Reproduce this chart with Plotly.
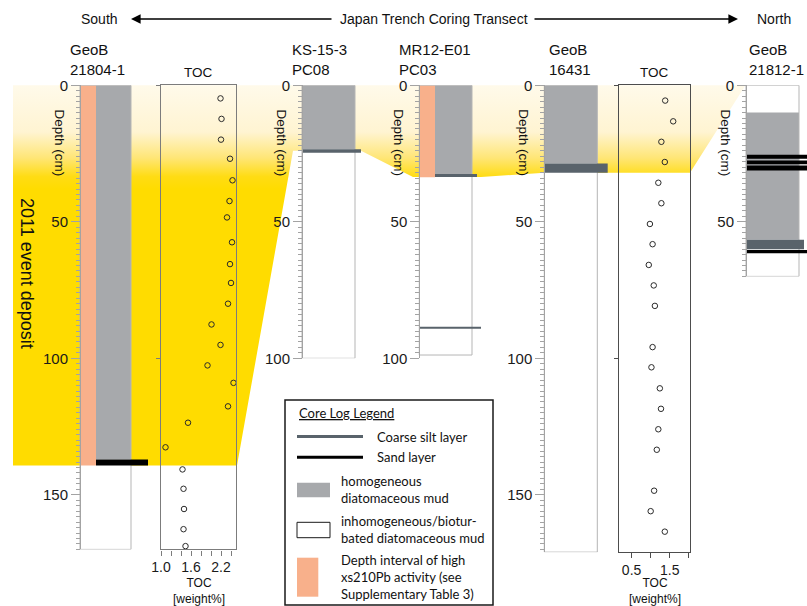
import plotly.graph_objects as go

# ---------------------------------------------------------------- data
core_titles = ["GeoB<br>21804-1", "KS-15-3<br>PC08", "MR12-E01<br>PC03", "GeoB<br>16431", "GeoB<br>21812-1"]
core_length_cm = [170.0, 100.0, 98.8, 171.0, 70.0]      # recovered core length
axis_length_cm = [170.0, 100.0, 100.0, 171.0, 70.0]     # depth ruler length
event_base_cm = [139.3, 24.0, 33.6, 32.0, 0.0]          # base of the 2011 event deposit

# lithology intervals (top, bottom) in cm
homog_mud = [[(0, 137.1)], [(0, 23.4)], [(0, 32.5)], [(0, 28.6)], [(10.0, 56.6)]]
pb210_high = [[(0, 139.3)], [], [(0, 33.7)], [], []]
silt_layers = [[], [(23.4, 24.7)], [(32.5, 33.6), (88.4, 89.2)], [(28.6, 32.0)], [(56.6, 60.1)]]
sand_layers = [[(137.1, 139.3)], [], [], [],
               [(25.4, 26.9), (27.5, 28.9), (29.4, 31.2), (60.3, 61.5)]]

# TOC profiles
toc21804_depth = [4.8, 12.3, 19.9, 26.9, 34.8, 42.4, 48.4, 57.5, 65.5, 72.4, 80.0, 87.6,
                  95.1, 102.6, 109.0, 117.6, 123.6, 132.6, 140.7, 147.8, 155.2, 162.6, 168.8]
toc21804_wt = [2.19, 2.21, 2.20, 2.38, 2.43, 2.37, 2.32, 2.42, 2.38, 2.40, 2.34, 2.01,
               2.19, 1.93, 2.45, 2.34, 1.54, 1.09, 1.43, 1.45, 1.46, 1.45, 1.49]
toc16431_depth = [5.6, 13.2, 20.7, 28.1, 35.7, 43.2, 50.8, 58.2, 65.8, 73.3, 80.8, 95.9,
                  103.3, 111.0, 118.5, 126.0, 133.5, 148.5, 156.0, 163.5]
toc16431_wt = [1.38, 1.59, 1.28, 1.37, 1.20, 1.28, 0.98, 1.05, 0.95, 1.08, 1.11, 1.05,
               1.02, 1.24, 1.27, 1.20, 1.16, 1.09, 1.00, 1.37]

# ---------------------------------------------------------------- geometry / style
W, H = 807, 606
TOP_PX = 85.3          # pixel row of the sea floor (0 cm)
PX_PER_CM = 2.73

def xp(px):
    return px / W

def yp(py):
    return 1 - py / H

def row_of(depth):
    return TOP_PX + PX_PER_CM * depth

ARIAL = "Liberation Sans, Arial, sans-serif"
LEGF = "Lato, sans-serif"

GREY = "#a7a9ac"
ORANGE = "#f8b08b"
SILT = "#59636b"
SAND = "#000000"
OUTLINE = "#b5b5b5"
RULER = "#a3a3a3"

col_axis_px = [80.0, 302.0, 419.3, 544.3, 746.0]
col_right_px = [131.0, 355.0, 472.0, 597.3, 799.0]
pb_right_px = [96.0, None, 435.0, None, None]
silt_x_px = [[], [(302, 361)], [(435, 477), (419.3, 481)], [(544.3, 607.7)], [(746, 804)]]
sand_x_px = [[(96, 148)], [], [], [], [(746, 812)] * 4]
title_left_px = [68, 290, 397, 546.7, 746.7]

# outline of the event-deposit body: (x pixel, core index whose base is used / None = sea floor)
deposit_outline = [(13, None), (745.5, None), (690, 3), (544.3, 3), (481, 2), (413, 2),
                   (361, 1), (293, 1), (237, 0), (13, 0)]


def rect_path(spans):
    xs, ys = [], []
    for x0, x1, t, b in spans:
        xs += [x0, x1, x1, x0, x0, None]
        ys += [t, t, b, b, t, None]
    return xs, ys


fig = go.Figure()

# ---- 2011 event deposit (background, vertical gradient)
dep_x = [p[0] for p in deposit_outline]
dep_y = [0.0 if p[1] is None else event_base_cm[p[1]] for p in deposit_outline]
fig.add_trace(go.Scatter(
    x=dep_x, y=dep_y, xaxis="x", yaxis="y", mode="lines", fill="toself",
    line=dict(width=0, color="rgba(0,0,0,0)"),
    fillgradient=dict(type="vertical", start=0, stop=38,
                      colorscale=[[0, "#fffaea"], [0.45, "#fff4d2"], [0.7, "#ffe676"],
                                  [0.88, "#ffdc14"], [1, "#ffdc00"]]),
    hoverinfo="skip", showlegend=False))

# ---- cores
for i in range(len(core_titles)):
    ya = f"y{i + 2}"
    x0 = col_axis_px[i]
    x1 = col_right_px[i]
    L = core_length_cm[i]

    def add_fill(spans, color, ya=ya):
        if not spans:
            return
        xs, ys = rect_path(spans)
        fig.add_trace(go.Scatter(x=xs, y=ys, xaxis="x", yaxis=ya, mode="lines", fill="toself",
                                 fillcolor=color, line=dict(width=0, color=color),
                                 hoverinfo="skip", showlegend=False))

    add_fill([(x0, x1, 0, L)], "#ffffff")
    pb_r = pb_right_px[i]
    if pb_r is not None:
        add_fill([(x0, pb_r, t, b) for t, b in pb210_high[i]], ORANGE)
    hx0 = pb_r if pb_r is not None else x0
    add_fill([(hx0, x1, t, b) for t, b in homog_mud[i]], GREY)

    bx, by = rect_path([(x0, x1, 0, L)])
    fig.add_trace(go.Scatter(x=bx, y=by, xaxis="x", yaxis=ya, mode="lines",
                             line=dict(width=1, color=OUTLINE), hoverinfo="skip", showlegend=False))

    add_fill([(sx[0], sx[1], t, b) for (t, b), sx in zip(silt_layers[i], silt_x_px[i])], SILT)
    add_fill([(sx[0], sx[1], t, b) for (t, b), sx in zip(sand_layers[i], sand_x_px[i])], SAND)

# ---- TOC profiles
marker = dict(symbol="circle-open", size=5.5, color="#2a2a2a", line=dict(width=1, color="#2a2a2a"))
fig.add_trace(go.Scatter(x=toc21804_wt, y=toc21804_depth, xaxis="x2", yaxis="y7", mode="markers",
                         marker=marker, showlegend=False, cliponaxis=False))
fig.add_trace(go.Scatter(x=toc16431_wt, y=toc16431_depth, xaxis="x3", yaxis="y8", mode="markers",
                         marker=marker, showlegend=False, cliponaxis=False))

# ---------------------------------------------------------------- axes
layout = dict(
    width=W, height=H, margin=dict(l=0, r=0, t=0, b=0, autoexpand=False),
    paper_bgcolor="white", plot_bgcolor="rgba(0,0,0,0)", showlegend=False,
    xaxis=dict(domain=[0, 1], range=[0, W], visible=False, fixedrange=True),
    yaxis=dict(domain=[0, 1], range=[(H - TOP_PX) / PX_PER_CM, -TOP_PX / PX_PER_CM],
               visible=False, fixedrange=True),
)

for i in range(len(core_titles)):
    L = axis_length_cm[i]
    majors = [v for v in range(0, int(L) + 1, 10)]
    minors = [v for v in range(0, int(L) + 1, 2)]
    layout[f"yaxis{i + 2}"] = dict(
        domain=[yp(row_of(L)), yp(TOP_PX)], range=[L, 0], anchor="free",
        position=xp(col_axis_px[i]), side="left",
        showline=True, linecolor=RULER, linewidth=1, showgrid=False, zeroline=False,
        ticks="outside", ticklen=9, tickwidth=1, tickcolor=RULER,
        tickmode="array", tickvals=majors,
        ticktext=[str(v) if v % 50 == 0 else "" for v in majors],
        tickfont=dict(family=ARIAL, size=15, color="#1a1a1a"),
        minor=dict(tickmode="array", tickvals=minors, ticks="outside", ticklen=4,
                   tickcolor=RULER, tickwidth=1, showgrid=False),
        fixedrange=True, automargin=False,
    )

toc_panels = [
    dict(x="xaxis2", y="yaxis7", xa="x2", yan="y7", left=161, right=236, rng=[1.0, 2.5],
         ticks=[1.0, 1.2, 1.4, 1.6, 1.8, 2.0, 2.2, 2.4], labels=["1.0", "1.6", "2.2"],
         depth=170.0, color="#7c7c7c"),
    dict(x="xaxis3", y="yaxis8", xa="x3", yan="y8", left=619, right=690, rng=[0.17, 2.03],
         ticks=[0.5, 1.0, 1.5, 2.0], labels=["0.5", "1.5"], depth=171.0, color="#4d4d4d"),
]
for p in toc_panels:
    layout[p["x"]] = dict(
        domain=[xp(p["left"]), xp(p["right"])], range=p["rng"], anchor=p["yan"],
        showline=True, mirror=True, linecolor=p["color"], linewidth=1.4,
        showgrid=False, zeroline=False, ticks="outside", ticklen=5, tickcolor=p["color"],
        tickmode="array", tickvals=p["ticks"],
        ticktext=[("%.1f" % v) if ("%.1f" % v) in p["labels"] else "" for v in p["ticks"]],
        tickfont=dict(family=ARIAL, size=14, color="#1a1a1a"), fixedrange=True, automargin=False,
    )
    layout[p["y"]] = dict(
        domain=[yp(row_of(p["depth"])), yp(TOP_PX)], range=[p["depth"], 0], anchor=p["xa"],
        showline=True, mirror=True, linecolor=p["color"], linewidth=1.4,
        showgrid=False, zeroline=False, ticks="outside", ticklen=4, tickcolor=p["color"],
        tickmode="array", tickvals=[0, 100], showticklabels=False, fixedrange=True,
        automargin=False,
    )

fig.update_layout(**layout)

# ---------------------------------------------------------------- text
ann = []


def text(x, y, s, size=14, family=ARIAL, xanchor="center", yanchor="middle", angle=0,
         align="left", **font_extra):
    ann.append(dict(x=xp(x), y=yp(y), xref="paper", yref="paper", text=s, showarrow=False,
                    xanchor=xanchor, yanchor=yanchor, textangle=angle, align=align,
                    font=dict(family=family, size=size, color="#111111", **font_extra)))


# transect header
text(99.5, 19, "South", 14)
text(434, 19, "Japan Trench Coring Transect", 14)
text(773.5, 19, "North", 14)
for tip, tail in [(131, 333), (738, 533)]:
    ann.append(dict(x=xp(tip), y=yp(19), xref="paper", yref="paper", text="",
                    showarrow=True, ax=tail - tip, ay=0, axref="pixel", ayref="pixel",
                    arrowhead=2, arrowsize=1.2, arrowwidth=1.6, arrowcolor="#000000"))

# core titles
for i, t in enumerate(core_titles):
    text(title_left_px[i], 59.5, t, 15, xanchor="left")
for p in toc_panels:
    c = (p["left"] + p["right"]) / 2
    text(c, 72, "TOC", 13.5)
    text(c, 607.5, "TOC<br>[weight%]", 12, yanchor="bottom", align="center")

# depth labels
for xa in col_axis_px:
    text(xa - 21, 142.5, "Depth (cm)", 13.5, angle=90)

text(27, 273, "2011 event deposit", 18, angle=90)

# ---- legend box
shapes = [dict(type="rect", xref="paper", yref="paper", x0=xp(285), x1=xp(493), y0=yp(605),
               y1=yp(400), line=dict(color="#1a1a1a", width=1.5), fillcolor="white")]
shapes.append(dict(type="line", xref="paper", yref="paper", x0=xp(297), x1=xp(363),
                   y0=yp(436.5), y1=yp(436.5), line=dict(color=SILT, width=3)))
shapes.append(dict(type="line", xref="paper", yref="paper", x0=xp(297), x1=xp(363),
                   y0=yp(457.3), y1=yp(457.3), line=dict(color=SAND, width=3)))
shapes.append(dict(type="rect", xref="paper", yref="paper", x0=xp(297), x1=xp(330),
                   y0=yp(497.3), y1=yp(482.7), line=dict(width=0), fillcolor=GREY))
shapes.append(dict(type="rect", xref="paper", yref="paper", x0=xp(297), x1=xp(330),
                   y0=yp(537.7), y1=yp(522.3), line=dict(color="#1a1a1a", width=1), fillcolor="white"))
shapes.append(dict(type="rect", xref="paper", yref="paper", x0=xp(297), x1=xp(318.3),
                   y0=yp(596.7), y1=yp(557.7), line=dict(width=0), fillcolor=ORANGE))

text(297, 412.5, "Core Log Legend", 13, LEGF, xanchor="left", lineposition="under")
text(375, 436.5, "Coarse silt layer", 13, LEGF, xanchor="left")
text(375, 457.3, "Sand layer", 13, LEGF, xanchor="left")
text(339, 489, "homogeneous<br>diatomaceous mud", 13, LEGF, xanchor="left")
text(339, 529, "inhomogeneous/biotur-<br>bated diatomaceous mud", 13, LEGF, xanchor="left")
text(339, 576.7, "Depth interval of high<br>xs210Pb activity (see<br>Supplementary Table 3)",
     13, LEGF, xanchor="left")

fig.update_layout(annotations=ann, shapes=shapes)
fig.write_html("out.html")
